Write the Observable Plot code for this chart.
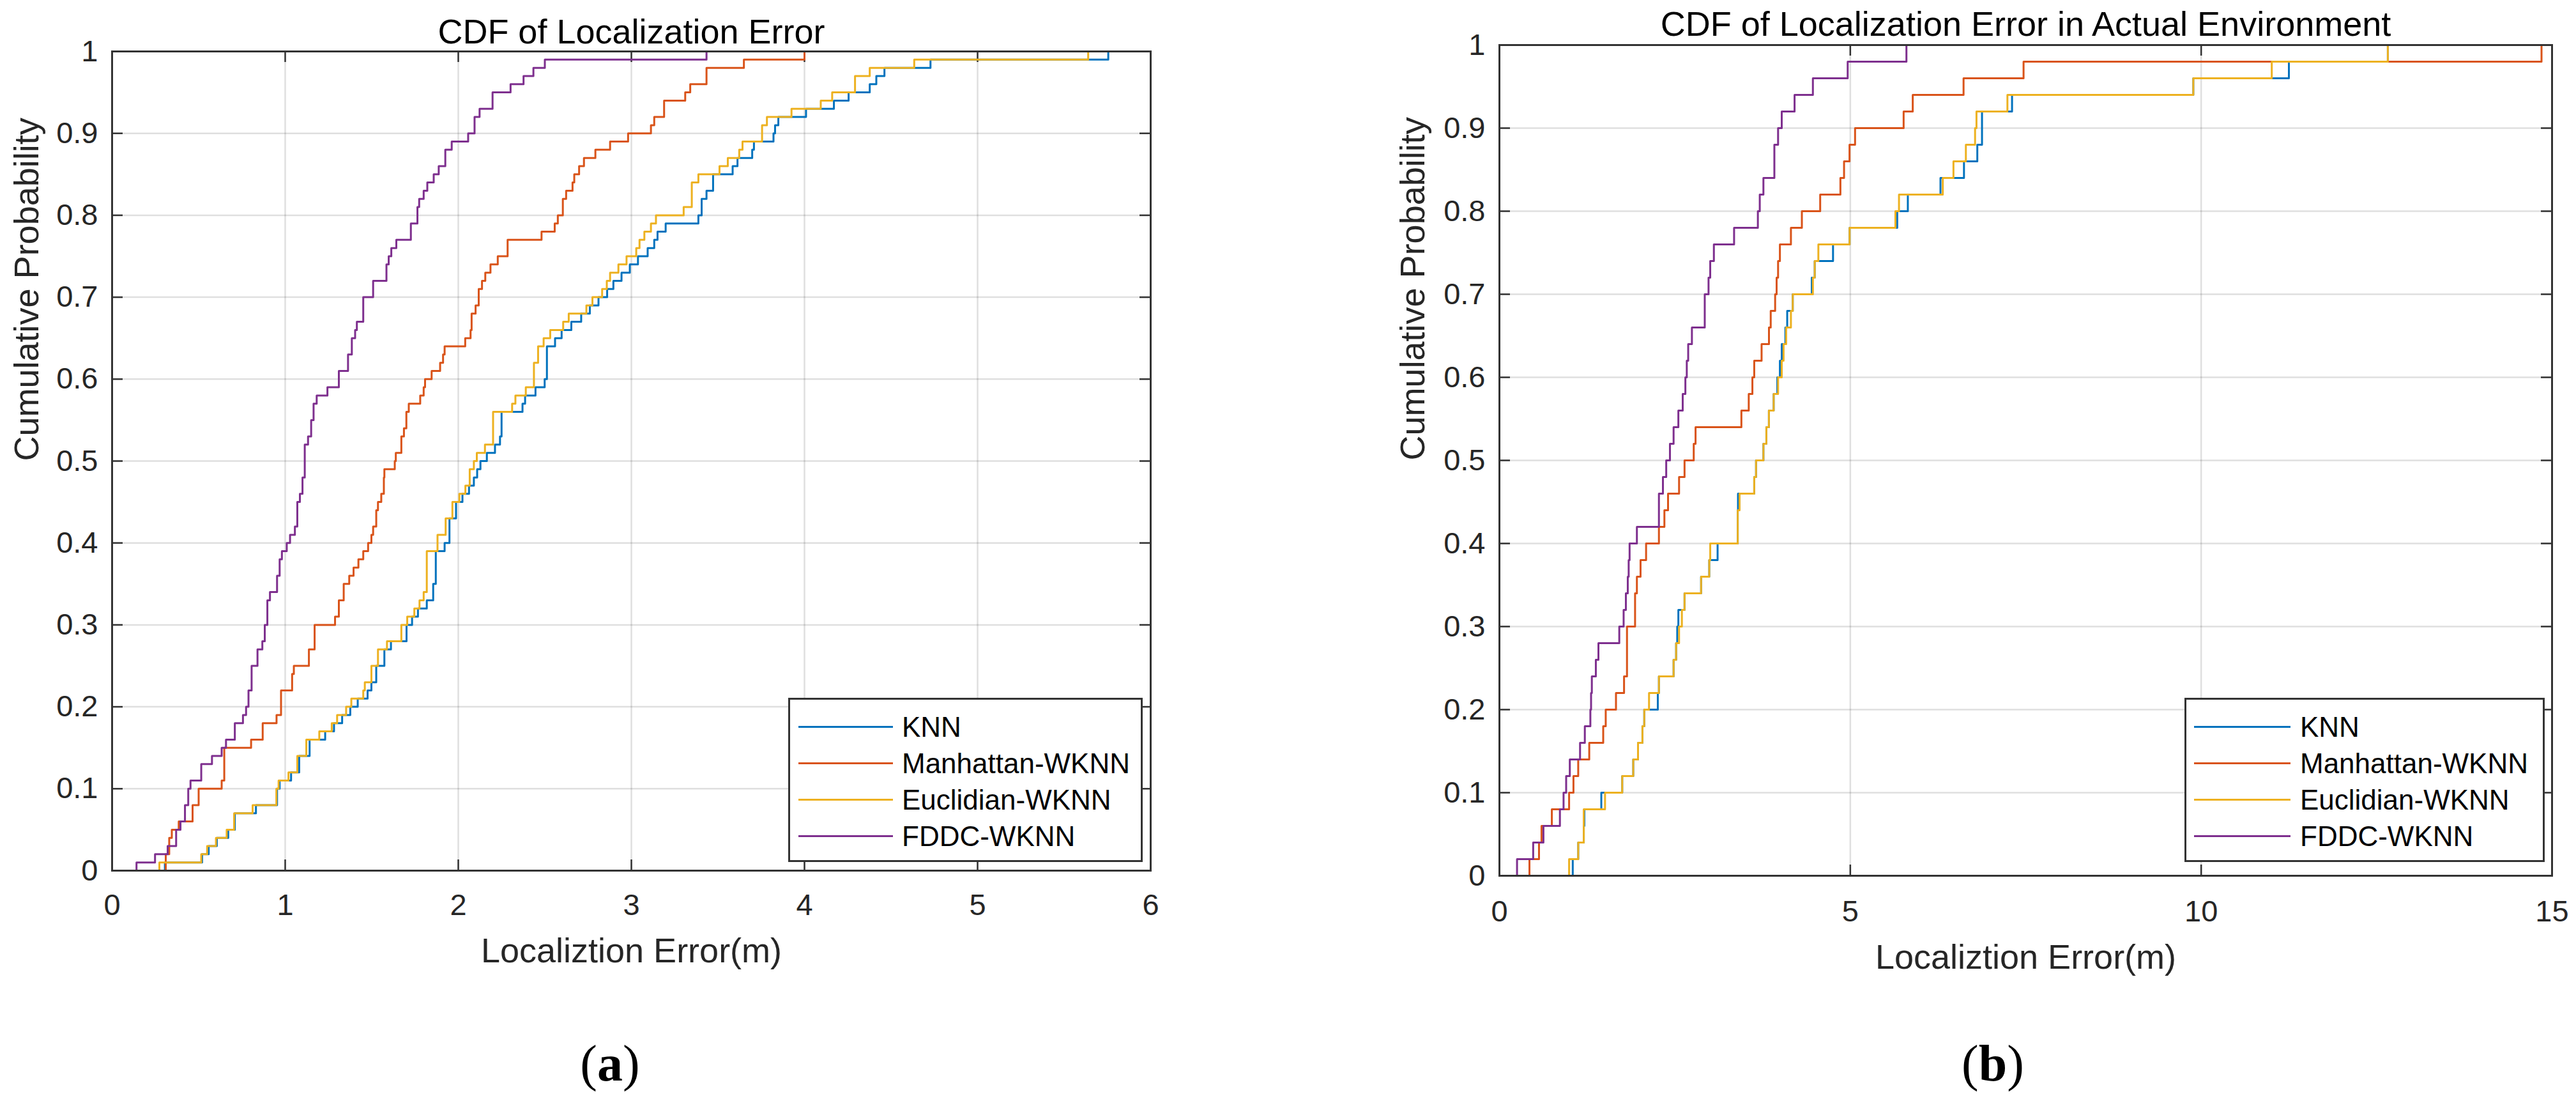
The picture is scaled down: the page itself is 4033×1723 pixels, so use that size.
<!DOCTYPE html>
<html><head><meta charset="utf-8">
<script src="https://cdn.jsdelivr.net/npm/d3@7"></script>
<script src="https://cdn.jsdelivr.net/npm/@observablehq/plot@0.6"></script>
<style>
html,body{margin:0;padding:0;background:#fff;}
#root{position:relative;width:4033px;height:1723px;overflow:hidden;background:#fff;font-family:"Liberation Sans",Arial,sans-serif;}
.panel{position:absolute;top:0;}
.legend{position:absolute;box-sizing:border-box;border:3px solid #333;background:#fff;padding-top:14px;}
.legend .row{display:flex;align-items:center;height:57px;font-size:44px;color:#000;white-space:nowrap;}
.legend .swatch{height:3px;flex:none;}
.caption{position:absolute;width:200px;text-align:center;font-family:"Liberation Serif","DejaVu Serif",serif;font-size:80px;line-height:80px;color:#000;}
</style></head><body><div id="root"></div>
<script>
// ---------- data ----------
const seriesNames = ["KNN", "Manhattan-WKNN", "Euclidian-WKNN", "FDDC-WKNN"];
const seriesColors = ["#0072BD", "#D95319", "#EDB120", "#7E2F8E"];
const titleA = "CDF of Localization Error";
const titleB = "CDF of Localization Error in Actual Environment";
const xLabelText = "Localiztion Error(m)";
const yLabelText = "Cumulative Probability";
const xTicksA = [0, 1, 2, 3, 4, 5, 6];
const xTickLabelsA = ["0", "1", "2", "3", "4", "5", "6"];
const xTicksB = [0, 5, 10, 15];
const xTickLabelsB = ["0", "5", "10", "15"];
const yTicks = [0, 0.1, 0.2, 0.3, 0.4, 0.5, 0.6, 0.7, 0.8, 0.9, 1];
const yTickLabels = ["0", "0.1", "0.2", "0.3", "0.4", "0.5", "0.6", "0.7", "0.8", "0.9", "1"];
const captionA = "a";
const captionB = "b";

// panel (a): [error, cumulative probability] stair corners
const knnA = [[0.305,0],[0.305,0.01],[0.52,0.02],[0.558,0.03],[0.605,0.04],[0.671,0.05],[0.709,0.07],[0.831,0.08],[0.953,0.10],[0.968,0.11],[1.034,0.12],[1.081,0.14],[1.141,0.16],[1.231,0.17],[1.282,0.18],[1.329,0.19],[1.376,0.20],[1.419,0.21],[1.476,0.22],[1.498,0.23],[1.526,0.25],[1.573,0.27],[1.611,0.28],[1.701,0.30],[1.733,0.31],[1.767,0.32],[1.818,0.33],[1.855,0.35],[1.87,0.39],[1.921,0.40],[1.949,0.43],[1.987,0.45],[2.024,0.46],[2.062,0.47],[2.09,0.48],[2.109,0.49],[2.128,0.50],[2.165,0.51],[2.212,0.52],[2.241,0.53],[2.25,0.56],[2.371,0.57],[2.386,0.58],[2.446,0.59],[2.499,0.60],[2.512,0.64],[2.559,0.65],[2.597,0.66],[2.653,0.67],[2.71,0.68],[2.76,0.69],[2.81,0.70],[2.86,0.71],[2.896,0.72],[2.943,0.73],[2.991,0.74],[3.038,0.75],[3.094,0.76],[3.132,0.77],[3.151,0.78],[3.198,0.79],[3.387,0.80],[3.406,0.82],[3.434,0.83],[3.472,0.85],[3.585,0.86],[3.613,0.87],[3.698,0.88],[3.708,0.89],[3.821,0.90],[3.83,0.91],[3.849,0.92],[4.009,0.93],[4.17,0.94],[4.255,0.95],[4.377,0.96],[4.415,0.97],[4.462,0.98],[4.728,0.99],[5.755,1.0]];
const manhattanA = [[0.31,0],[0.31,0.02],[0.33,0.04],[0.345,0.05],[0.385,0.06],[0.465,0.08],[0.50,0.10],[0.633,0.11],[0.648,0.15],[0.803,0.16],[0.87,0.18],[0.95,0.19],[0.976,0.22],[1.04,0.24],[1.05,0.25],[1.137,0.27],[1.17,0.30],[1.288,0.31],[1.31,0.33],[1.338,0.35],[1.37,0.36],[1.395,0.37],[1.423,0.38],[1.451,0.39],[1.479,0.40],[1.498,0.41],[1.508,0.42],[1.526,0.44],[1.536,0.45],[1.555,0.46],[1.57,0.48],[1.573,0.49],[1.633,0.50],[1.639,0.51],[1.671,0.53],[1.686,0.54],[1.70,0.56],[1.714,0.57],[1.78,0.58],[1.80,0.59],[1.808,0.60],[1.846,0.61],[1.895,0.62],[1.912,0.63],[1.921,0.64],[2.04,0.65],[2.071,0.66],[2.077,0.68],[2.10,0.69],[2.118,0.71],[2.137,0.72],[2.156,0.73],[2.186,0.74],[2.228,0.75],[2.285,0.77],[2.481,0.78],[2.557,0.79],[2.575,0.80],[2.604,0.82],[2.623,0.83],[2.66,0.84],[2.67,0.85],[2.698,0.86],[2.726,0.87],[2.792,0.88],[2.877,0.89],[2.981,0.90],[3.113,0.91],[3.132,0.92],[3.189,0.94],[3.311,0.95],[3.34,0.96],[3.434,0.98],[3.65,0.99],[4.0,1.0]];
const euclidianA = [[0.273,0],[0.273,0.01],[0.515,0.02],[0.549,0.03],[0.60,0.04],[0.662,0.05],[0.705,0.07],[0.812,0.08],[0.949,0.10],[0.962,0.11],[1.019,0.12],[1.07,0.14],[1.122,0.16],[1.197,0.17],[1.269,0.18],[1.30,0.19],[1.352,0.20],[1.382,0.21],[1.451,0.22],[1.46,0.23],[1.498,0.25],[1.536,0.27],[1.588,0.28],[1.671,0.30],[1.705,0.31],[1.746,0.32],[1.776,0.33],[1.80,0.34],[1.818,0.39],[1.88,0.41],[1.927,0.43],[1.966,0.45],[2.006,0.46],[2.041,0.47],[2.066,0.49],[2.09,0.50],[2.107,0.51],[2.154,0.52],[2.201,0.56],[2.311,0.57],[2.33,0.58],[2.39,0.59],[2.437,0.62],[2.461,0.64],[2.493,0.65],[2.531,0.66],[2.606,0.67],[2.638,0.68],[2.74,0.69],[2.775,0.70],[2.831,0.71],[2.858,0.72],[2.877,0.73],[2.925,0.74],[2.972,0.75],[3.028,0.76],[3.047,0.77],[3.075,0.78],[3.113,0.79],[3.142,0.80],[3.302,0.81],[3.349,0.84],[3.387,0.85],[3.509,0.86],[3.557,0.87],[3.623,0.88],[3.642,0.89],[3.755,0.91],[3.783,0.92],[3.925,0.93],[4.094,0.94],[4.16,0.95],[4.292,0.97],[4.377,0.98],[4.634,0.99],[5.639,1.0]];
const fddcA = [[0.141,0],[0.141,0.01],[0.248,0.02],[0.321,0.03],[0.370,0.05],[0.395,0.06],[0.421,0.08],[0.44,0.10],[0.453,0.11],[0.515,0.13],[0.577,0.14],[0.633,0.15],[0.658,0.16],[0.709,0.18],[0.756,0.19],[0.774,0.20],[0.788,0.22],[0.806,0.25],[0.840,0.27],[0.868,0.28],[0.882,0.30],[0.897,0.33],[0.912,0.34],[0.953,0.36],[0.968,0.38],[0.981,0.39],[1.009,0.40],[1.028,0.41],[1.056,0.42],[1.07,0.45],[1.085,0.46],[1.10,0.48],[1.113,0.52],[1.132,0.53],[1.15,0.55],[1.164,0.57],[1.182,0.58],[1.244,0.59],[1.31,0.61],[1.363,0.63],[1.385,0.65],[1.404,0.66],[1.414,0.67],[1.451,0.70],[1.508,0.72],[1.585,0.74],[1.598,0.75],[1.613,0.76],[1.642,0.77],[1.726,0.79],[1.764,0.81],[1.774,0.82],[1.80,0.83],[1.821,0.84],[1.858,0.85],[1.887,0.86],[1.925,0.88],[1.962,0.89],[2.057,0.90],[2.094,0.92],[2.123,0.93],[2.198,0.95],[2.302,0.96],[2.377,0.97],[2.434,0.98],[2.5,0.99],[3.434,1.0]];

// panel (b)
const knnB = [[1.045,0],[1.045,0.02],[1.123,0.04],[1.202,0.06],[1.21,0.08],[1.452,0.10],[1.75,0.12],[1.907,0.14],[1.975,0.16],[2.038,0.18],[2.064,0.20],[2.257,0.22],[2.273,0.24],[2.482,0.26],[2.518,0.28],[2.534,0.30],[2.55,0.32],[2.638,0.34],[2.874,0.36],[2.99,0.38],[3.109,0.40],[3.396,0.44],[3.40,0.46],[3.631,0.48],[3.657,0.50],[3.762,0.52],[3.804,0.54],[3.84,0.56],[3.908,0.58],[3.96,0.60],[3.997,0.62],[4.023,0.64],[4.075,0.66],[4.101,0.68],[4.18,0.70],[4.451,0.72],[4.493,0.74],[4.754,0.76],[4.99,0.78],[5.669,0.80],[5.82,0.82],[6.285,0.84],[6.62,0.86],[6.81,0.88],[6.877,0.92],[7.305,0.94],[9.888,0.96],[11.25,0.98],[12.66,1.0]];
const manhattanB = [[0.428,0],[0.428,0.02],[0.564,0.04],[0.60,0.06],[0.747,0.08],[0.993,0.10],[1.055,0.12],[1.123,0.14],[1.28,0.16],[1.479,0.18],[1.515,0.20],[1.661,0.22],[1.776,0.24],[1.818,0.30],[1.933,0.34],[1.959,0.36],[2.011,0.38],[2.09,0.40],[2.273,0.42],[2.351,0.44],[2.403,0.46],[2.56,0.48],[2.638,0.50],[2.769,0.52],[2.795,0.54],[3.448,0.56],[3.553,0.58],[3.605,0.60],[3.631,0.62],[3.736,0.64],[3.841,0.66],[3.866,0.68],[3.929,0.70],[3.95,0.72],[3.971,0.74],[3.997,0.76],[4.154,0.78],[4.31,0.80],[4.571,0.82],[4.859,0.84],[4.911,0.86],[4.989,0.88],[5.068,0.90],[5.76,0.92],[5.89,0.94],[6.614,0.96],[7.469,0.98],[14.85,1.0]];
const euclidianB = [[0.993,0],[0.993,0.02],[1.123,0.04],[1.202,0.08],[1.505,0.10],[1.75,0.12],[1.907,0.14],[1.975,0.16],[2.038,0.18],[2.064,0.20],[2.132,0.22],[2.273,0.24],[2.482,0.26],[2.518,0.28],[2.56,0.30],[2.60,0.32],[2.638,0.34],[2.874,0.36],[2.99,0.38],[3.004,0.40],[3.396,0.44],[3.422,0.46],[3.631,0.48],[3.657,0.50],[3.762,0.52],[3.804,0.54],[3.84,0.56],[3.908,0.58],[3.971,0.60],[4.023,0.62],[4.049,0.64],[4.086,0.66],[4.154,0.68],[4.18,0.70],[4.467,0.72],[4.493,0.74],[4.545,0.76],[4.99,0.78],[5.643,0.80],[5.694,0.82],[6.318,0.84],[6.47,0.86],[6.647,0.88],[6.778,0.90],[6.798,0.92],[7.239,0.94],[9.888,0.96],[11.006,0.98],[12.66,1.0]];
const fddcB = [[0.251,0],[0.251,0.02],[0.481,0.04],[0.627,0.06],[0.862,0.08],[0.914,0.10],[0.951,0.12],[1.003,0.14],[1.149,0.16],[1.217,0.18],[1.296,0.20],[1.306,0.22],[1.317,0.24],[1.374,0.26],[1.411,0.28],[1.708,0.30],[1.77,0.32],[1.802,0.34],[1.829,0.36],[1.842,0.38],[1.855,0.40],[1.959,0.42],[2.273,0.46],[2.33,0.48],[2.377,0.50],[2.43,0.52],[2.482,0.54],[2.55,0.56],[2.612,0.58],[2.65,0.60],[2.67,0.62],[2.69,0.64],[2.743,0.66],[2.926,0.70],[2.98,0.72],[3.004,0.74],[3.056,0.76],[3.344,0.78],[3.683,0.80],[3.71,0.82],[3.762,0.84],[3.918,0.88],[3.971,0.90],[4.023,0.92],[4.206,0.94],[4.467,0.96],[4.963,0.98],[5.8,1.0]];

// ---------- layout / style ----------
const AXIS = "#333333";
const TEXT = "#262626";
const FONT = "'Liberation Sans', Arial, sans-serif";
const root = document.getElementById("root");

function makePanel(cfg) {
  const plotW = cfg.width - cfg.mL - cfg.mR;
  const plotH = cfg.height - cfg.mT - cfg.mB;
  const xLab = new Map(cfg.xTicks.map((v, i) => [v, cfg.xTickLabels[i]]));
  const yLab = new Map(yTicks.map((v, i) => [v, yTickLabels[i]]));
  const tick = 17;
  const series = cfg.series;
  const chart = Plot.plot({
    width: cfg.width, height: cfg.height,
    marginLeft: cfg.mL, marginRight: cfg.mR, marginTop: cfg.mT, marginBottom: cfg.mB,
    x: {domain: cfg.xDomain, label: null},
    y: {domain: [0, 1], label: null},
    style: {fontFamily: FONT, fontSize: "47px", color: TEXT, background: "transparent", overflow: "visible"},
    marks: [
      Plot.gridX({ticks: cfg.xTicks, stroke: "#262626", strokeOpacity: 0.15, strokeWidth: 2.5}),
      Plot.gridY({ticks: yTicks, stroke: "#262626", strokeOpacity: 0.15, strokeWidth: 2.5}),
      Plot.axisX({ticks: cfg.xTicks, anchor: "bottom", tickSize: 0, tickPadding: cfg.xPad, tickFormat: d => xLab.get(d), label: null, fill: TEXT}),
      Plot.axisY({ticks: yTicks, anchor: "left", tickSize: 0, tickPadding: 22, tickFormat: d => yLab.get(d), label: null, fill: TEXT}),
      Plot.tickX(cfg.xTicks, {x: d => d, insetTop: plotH - tick, stroke: AXIS, strokeWidth: 2.5}),
      Plot.tickX(cfg.xTicks, {x: d => d, insetBottom: plotH - tick, stroke: AXIS, strokeWidth: 2.5}),
      Plot.tickY(yTicks, {y: d => d, insetRight: plotW - tick, stroke: AXIS, strokeWidth: 2.5}),
      Plot.tickY(yTicks, {y: d => d, insetLeft: plotW - tick, stroke: AXIS, strokeWidth: 2.5}),
      ...series.map((s, i) => Plot.line(s, {x: d => d[0], y: d => d[1], curve: "step-after", stroke: seriesColors[i], strokeWidth: 3})),
      Plot.frame({stroke: AXIS, strokeWidth: 3}),
      Plot.text([cfg.title], {frameAnchor: "top", lineAnchor: "middle", dy: cfg.titleDy, text: d => d, fontSize: 54, fill: "#000"}),
      Plot.text([xLabelText], {frameAnchor: "bottom", lineAnchor: "middle", dy: cfg.xLabelDy, text: d => d, fontSize: 54, fill: TEXT}),
      Plot.text([yLabelText], {frameAnchor: "left", lineAnchor: "middle", dx: cfg.yLabelDx, rotate: -90, text: d => d, fontSize: 54, fill: TEXT})
    ]
  });
  chart.classList.add("panel");
  chart.style.left = cfg.left + "px";
  root.appendChild(chart);

  // legend (MATLAB style box, bottom-right)
  const lg = document.createElement("div");
  lg.className = "legend";
  Object.assign(lg.style, {left: cfg.lg.left + "px", top: cfg.lg.top + "px", width: cfg.lg.width + "px", height: cfg.lg.height + "px"});
  seriesNames.forEach((name, i) => {
    const row = document.createElement("div");
    row.className = "row";
    const sw = document.createElement("div");
    sw.className = "swatch";
    Object.assign(sw.style, {background: seriesColors[i], width: cfg.lg.sw + "px", marginLeft: cfg.lg.ml + "px", marginRight: cfg.lg.mr + "px"});
    const tx = document.createElement("span");
    tx.textContent = name;
    row.appendChild(sw); row.appendChild(tx);
    lg.appendChild(row);
  });
  root.appendChild(lg);

  const cap = document.createElement("div");
  cap.className = "caption";
  cap.style.left = (cfg.capX - 100) + "px";
  cap.style.top = "1624px";
  cap.innerHTML = "(<b>" + cfg.caption + "</b>)";
  root.appendChild(cap);
}

makePanel({
  left: 0, width: 2000, height: 1723, mL: 175, mR: 199, mT: 80, mB: 361,
  xDomain: [0, 6], xTicks: xTicksA, xTickLabels: xTickLabelsA, xPad: 36,
  series: [knnA, manhattanA, euclidianA, fddcA],
  title: titleA, titleDy: -30, xLabelDy: 126, yLabelDx: -133,
  lg: {left: 1234, top: 1092, width: 555, height: 257, sw: 148, ml: 13, mr: 14},
  caption: captionA, capX: 955
});
makePanel({
  left: 2050, width: 1983, height: 1723, mL: 297, mR: 38, mT: 70, mB: 353,
  xDomain: [0, 15], xTicks: xTicksB, xTickLabels: xTickLabelsB, xPad: 38,
  series: [knnB, manhattanB, euclidianB, fddcB],
  title: titleB, titleDy: -32, xLabelDy: 128, yLabelDx: -135,
  lg: {left: 3420, top: 1092, width: 564, height: 257, sw: 151, ml: 12, mr: 15},
  caption: captionB, capX: 3120
});
</script></body></html>
